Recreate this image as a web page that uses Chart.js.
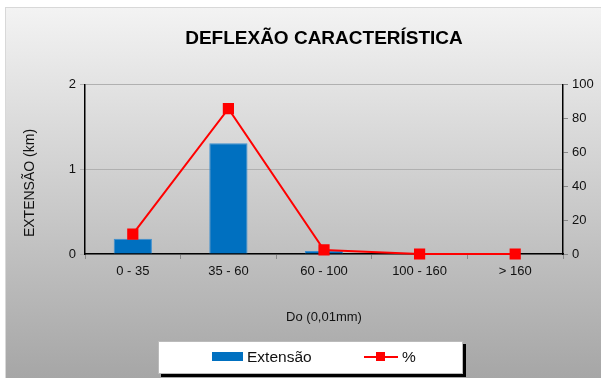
<!DOCTYPE html>
<html>
<head>
<meta charset="utf-8">
<script src="https://cdn.jsdelivr.net/npm/chart.js@4"></script>
<style>
  body { margin: 0; background: #fff; }
  #wrap { position: relative; width: 601px; height: 378px; overflow: hidden; }
  #frame {
    position: absolute; left: 5px; top: 7px; right: 0; bottom: 0;
    border-top: 1px solid #d8d8d8; border-left: 1px solid #d8d8d8;
    background: linear-gradient(to bottom, #f3f3f3 0%, #a6a6a6 100%);
  }
  #myChart { position: absolute; left: 0; top: 0; }
  #legend {
    position: absolute; left: 158px; top: 341px; width: 303px; height: 31px;
    background: #fff; border: 1px solid #bbb; box-shadow: 3px 3px 0 #000;
    font-family: "Liberation Sans", Arial, sans-serif; font-size: 15.5px; color: #111;
  }
  .item { position: absolute; top: 6px; line-height: 18px; }
  .sw { display: inline-block; vertical-align: middle; position: relative; }
</style>
</head>
<body>
<div id="wrap">
  <div id="frame"></div>
  <canvas id="myChart" width="601" height="378"></canvas>
  <div id="legend"></div>
</div>
<script>
var categories = ['0 - 35', '35 - 60', '60 - 100', '100 - 160', '> 160']
var extensao = [0.18, 1.31, 0.035, 0, 0]
var percent = [11.8, 85.9, 2.4, 0, 0]
var leftTicks = [0, 1, 2]
var rightTicks = [0, 20, 40, 60, 80, 100]

const font = 'Liberation Sans'

// y axis title is drawn by hand, the reference sits it lower than the axis middle
const yTitle = {
    id: 'yTitle',
    afterDraw(chart) {
        const c = chart.ctx
        c.save()
        c.translate(30, 183)
        c.rotate(-Math.PI / 2)
        c.fillStyle = '#111'
        c.font = '14px "' + font + '"'
        c.textAlign = 'center'
        c.textBaseline = 'middle'
        c.fillText('EXTENSÃO (km)', 0, 0)
        c.restore()
    }
}

const ctx = document.getElementById('myChart')
const chart = new Chart(ctx, {
    data: {
        labels: categories,
        datasets: [{
            type: 'line',
            label: '%',
            data: percent,
            yAxisID: 'y2',
            borderColor: '#ff0000',
            backgroundColor: '#ff0000',
            borderWidth: 2,
            pointStyle: 'rect',
            pointRadius: 6.5,
            pointHoverRadius: 6.5,
            clip: false,
            order: 0
        }, {
            type: 'bar',
            label: 'Extensão',
            data: extensao,
            yAxisID: 'y',
            backgroundColor: '#0070c0',
            borderColor: '#3b8fd0',
            borderWidth: 1,
            barPercentage: 0.4,
            categoryPercentage: 1,
            order: 1
        }]
    },
    plugins: [yTitle],
    options: {
        responsive: false,
        animation: false,
        layout: { padding: { left: 0, right: 0, top: 0, bottom: 44 } },
        plugins: {
            legend: { display: false },
            tooltip: { enabled: false },
            title: {
                display: true,
                fullSize: false,
                text: 'DEFLEXÃO CARACTERÍSTICA',
                color: '#000',
                font: { family: font, size: 19, weight: 'bold' },
                padding: { top: 27, bottom: 35 }
            }
        },
        scales: {
            x: {
                offset: true,
                grid: { offset: true, drawOnChartArea: false, tickLength: 5, color: '#888' },
                border: { color: '#000', width: 1.5 },
                ticks: { color: '#111', font: { family: font, size: 13 }, padding: 5, maxRotation: 0 },
                title: {
                    display: true, text: 'Do (0,01mm)', color: '#111',
                    font: { family: font, size: 13 }, padding: { top: 0, bottom: 9 }
                },
                afterFit: function(s) { s.height = 80 }
            },
            y: {
                position: 'left',
                min: 0, max: 2,
                afterBuildTicks: function(s) { s.ticks = leftTicks.map(v => ({ value: v })) },
                grid: { color: '#b0b0b0', tickLength: 5, drawTicks: true },
                border: { color: '#000', width: 1.5 },
                ticks: { color: '#111', font: { family: font, size: 13 }, padding: 4 },
                afterFit: function(s) { s.width = 85 }
            },
            y2: {
                position: 'right',
                min: 0, max: 100,
                afterBuildTicks: function(s) { s.ticks = rightTicks.map(v => ({ value: v })) },
                grid: { drawOnChartArea: false, tickLength: 5, color: '#888' },
                border: { color: '#000', width: 1.5 },
                ticks: { color: '#111', font: { family: font, size: 13 }, padding: 4 },
                afterFit: function(s) { s.width = 38 }
            }
        }
    }
})

// html legend built from the datasets
const legend = document.getElementById('legend')
const bar = chart.data.datasets[1]
const line = chart.data.datasets[0]
legend.innerHTML =
    '<div class="item" style="left:53px"><span class="sw" style="width:31px;height:9px;background:' + bar.backgroundColor + ';margin-right:4px;top:-1px"></span>' + bar.label + '</div>' +
    '<div class="item" style="left:205px"><span class="sw" style="width:34px;height:2px;background:' + line.borderColor + ';margin-right:4px;top:-1px">' +
    '<span style="position:absolute;left:12px;top:-4px;width:9px;height:9px;background:' + line.borderColor + '"></span></span>' + line.label + '</div>'
</script>
</body>
</html>
